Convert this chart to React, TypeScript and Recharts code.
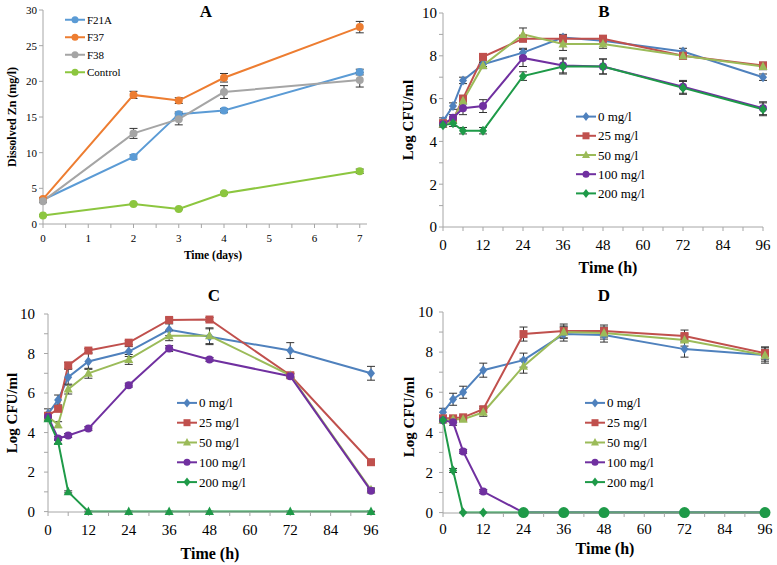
import React from 'react';
import { LineChart, Line, XAxis, YAxis, ErrorBar, Legend } from 'recharts';

const FONT = "'Liberation Serif', 'Times New Roman', Times, serif";
const AXIS = '#a6a6a6';

// ---- panel A: dissolved Zn ----
const daysA = [0, 2, 3, 4, 7];
const f21a = [3.4, 9.4, 15.4, 15.9, 21.3];
const f21aErr = [0.2, 0.3, 0.3, 0.3, 0.4];
const f37 = [3.5, 18.1, 17.3, 20.5, 27.6];
const f37Err = [0.2, 0.5, 0.4, 0.6, 0.8];
const f38 = [3.2, 12.7, 14.7, 18.5, 20.2];
const f38Err = [0.2, 0.7, 0.8, 0.9, 1.0];
const control = [1.2, 2.8, 2.1, 4.3, 7.4];
const controlErr = [0.1, 0.1, 0.1, 0.15, 0.3];
const ticksAX = [0, 0.5, 1, 1.5, 2, 2.5, 3, 3.5, 4, 4.5, 5, 5.5, 6, 6.5, 7];
const ticksAY = [0, 5, 10, 15, 20, 25, 30];

// ---- panels B-D: Log CFU/ml ----
const hours = [0, 3, 6, 12, 24, 36, 48, 72, 96];
const hourTicks = [0, 6, 12, 18, 24, 30, 36, 42, 48, 54, 60, 66, 72, 78, 84, 90, 96];
const logTicks = [0, 1, 2, 3, 4, 5, 6, 7, 8, 9, 10];
const concNames = ['0 mg/l', '25 mg/l', '50 mg/l', '100 mg/l', '200 mg/l'];

const b0 = [4.95, 5.65, 6.85, 7.6, 8.15, 8.85, 8.7, 8.2, 7.0];
const b25 = [4.85, 5.0, 6.0, 7.95, 8.8, 8.8, 8.8, 8.0, 7.55];
const b50 = [4.8, 5.0, 5.9, 7.55, 9.0, 8.55, 8.55, 8.0, 7.5];
const b100 = [4.8, 5.1, 5.55, 5.65, 7.9, 7.55, 7.5, 6.55, 5.55];
const b200 = [4.75, 4.85, 4.5, 4.5, 7.05, 7.5, 7.5, 6.5, 5.5];
const b0Err = [0.15, 0.15, 0.15, 0.1, 0.2, 0.15, 0.15, 0.15, 0.15];
const b25Err = [0.1, 0.1, 0.15, 0.15, 0.15, 0.15, 0.15, 0.1, 0.15];
const b50Err = [0.1, 0.1, 0.15, 0.15, 0.3, 0.3, 0.2, 0.15, 0.15];
const b100Err = [0.1, 0.15, 0.3, 0.3, 0.4, 0.35, 0.35, 0.3, 0.3];
const b200Err = [0.1, 0.15, 0.15, 0.15, 0.2, 0.35, 0.35, 0.3, 0.3];

const c0 = [4.95, 5.65, 6.8, 7.6, 8.1, 9.2, 8.85, 8.15, 7.0];
const c25 = [4.85, 5.2, 7.4, 8.15, 8.55, 9.7, 9.72, 6.9, 2.5];
const c50 = [4.8, 4.4, 6.2, 7.0, 7.7, 8.9, 8.9, 6.9, 1.1];
const c100 = [4.8, 3.7, 3.85, 4.2, 6.4, 8.25, 7.7, 6.85, 1.05];
const c200 = [4.7, 3.55, 1.0, 0, 0, 0, 0, 0, 0];
const c0Err = [0.25, 0.25, 0.4, 0.4, 0.25, 0.3, 0.4, 0.4, 0.35];
const c25Err = [0.1, 0.1, 0.15, 0.1, 0.1, 0.1, 0.1, 0.1, 0.1];
const c50Err = [0.1, 0.15, 0.25, 0.25, 0.25, 0.25, 0.4, 0.1, 0.1];
const c100Err = [0.1, 0.1, 0.1, 0.1, 0.1, 0.15, 0.1, 0.1, 0.1];
const c200Err = [0.1, 0.1, 0.05, 0.02, 0.02, 0.02, 0.02, 0.02, 0.02];

const d0 = [5.0, 5.65, 6.0, 7.1, 7.6, 8.9, 8.85, 8.15, 7.85];
const d25 = [4.7, 4.7, 4.75, 5.15, 8.9, 9.05, 9.05, 8.8, 7.95];
const d50 = [4.6, 4.65, 4.65, 5.0, 7.3, 9.0, 8.95, 8.6, 7.85];
const d100 = [4.6, 4.5, 3.05, 1.05, 0, 0, 0, 0, 0];
const d200 = [4.6, 2.1, 0, 0, 0, 0, 0, 0, 0];
const d0Err = [0.2, 0.3, 0.3, 0.35, 0.35, 0.35, 0.35, 0.4, 0.4];
const d25Err = [0.1, 0.1, 0.1, 0.15, 0.35, 0.35, 0.3, 0.3, 0.3];
const d50Err = [0.1, 0.1, 0.1, 0.2, 0.35, 0.3, 0.3, 0.3, 0.3];
const d100Err = [0.1, 0.15, 0.1, 0.1, 0.02, 0.02, 0.02, 0.02, 0.02];
const d200Err = [0.1, 0.1, 0.02, 0.02, 0.02, 0.02, 0.02, 0.02, 0.02];

type Shape = 'circle' | 'square' | 'diamond' | 'triangle';

interface Series {
  key: string;
  name: string;
  color: string;
  shape: Shape;
  values: number[];
  errors: number[];
  shapeAt?: (i: number) => Shape;
}

const Marker = ({ cx, cy, shape, color, s = 4 }: any) => {
  if (cx == null || cy == null) return null;
  if (shape === 'square') return <rect x={cx - s} y={cy - s} width={2 * s} height={2 * s} fill={color} />;
  if (shape === 'diamond')
    return <polygon points={`${cx},${cy - s - 1} ${cx + s},${cy} ${cx},${cy + s + 1} ${cx - s},${cy}`} fill={color} />;
  if (shape === 'triangle')
    return <polygon points={`${cx},${cy - s - 1} ${cx + s + 0.5},${cy + s - 0.5} ${cx - s - 0.5},${cy + s - 0.5}`} fill={color} />;
  return <circle cx={cx} cy={cy} r={s} fill={color} />;
};

const build = (xs: number[], series: Series[]) =>
  xs.map((t, i) => {
    const row: Record<string, number> = { t };
    series.forEach((s) => {
      row[s.key] = s.values[i];
      row[s.key + 'Err'] = s.errors[i];
    });
    return row;
  });

const concColors = ['#4f81bd', '#c0504d', '#9bbb59', '#7030a0', '#1e9a48'];
const concShapes: Shape[] = ['diamond', 'square', 'triangle', 'circle', 'diamond'];

const concSeries = (vals: number[][], errs: number[][], last?: Partial<Series>): Series[] =>
  vals.map((v, i) => ({
    key: 's' + i,
    name: concNames[i],
    color: concColors[i],
    shape: concShapes[i],
    values: v,
    errors: errs[i],
    ...(i === 4 && last ? last : {}),
  }));

const seriesA: Series[] = [
  { key: 'f21a', name: 'F21A', color: '#5b9bd5', shape: 'circle', values: f21a, errors: f21aErr },
  { key: 'f37', name: 'F37', color: '#ed7d31', shape: 'circle', values: f37, errors: f37Err },
  { key: 'f38', name: 'F38', color: '#a5a5a5', shape: 'circle', values: f38, errors: f38Err },
  { key: 'ctrl', name: 'Control', color: '#8cc63f', shape: 'circle', values: control, errors: controlErr },
];
const seriesB = concSeries([b0, b25, b50, b100, b200], [b0Err, b25Err, b50Err, b100Err, b200Err]);
const seriesC = concSeries([c0, c25, c50, c100, c200], [c0Err, c25Err, c50Err, c100Err, c200Err], {
  shapeAt: () => 'triangle',
});
const seriesD = concSeries([d0, d25, d50, d100, d200], [d0Err, d25Err, d50Err, d100Err, d200Err], {
  shapeAt: (i) => (i >= 4 ? 'circle' : 'diamond'),
});

interface PanelProps {
  left: number;
  top: number;
  width: number;
  height: number;
  margin: { top: number; right: number; bottom: number; left: number };
  yWidth: number;
  xs: number[];
  series: Series[];
  xDomain: [number, number];
  xTicks: number[];
  xLabel: (v: number) => string;
  yDomain: [number, number];
  yTicks: number[];
  yLabel: (v: number) => string;
  tickFont: number;
  xTickMargin: number;
  yTickMargin: number;
  legend: { left: number; top: number; gap: number; line: number; font: number };
  title: { text: string; x: number; y: number };
  xTitle: { text: string; x: number; y: number; size: number };
  yTitle: { text: string; x: number; y: number; size: number };
  dotSize: number;
}

const Panel = (p: PanelProps) => {
  const data = build(p.xs, p.series);
  const renderLegend = (props: any) => {
    const payload = (props.payload || []).slice().sort(
      (a: any, b: any) =>
        p.series.findIndex((s) => s.key === a.dataKey) - p.series.findIndex((s) => s.key === b.dataKey),
    );
    return (
      <svg width={110} height={payload.length * p.legend.gap} style={{ overflow: 'visible', display: 'block' }}>
        {payload.map((entry: any, i: number) => {
          const sr = p.series.find((s) => s.key === entry.dataKey);
          const y = p.legend.gap * i + p.legend.gap / 2;
          return (
            <g key={entry.dataKey}>
              <line x1={0} x2={p.legend.line} y1={y} y2={y} stroke={entry.color} strokeWidth={2} />
              <Marker cx={p.legend.line / 2} cy={y} shape={sr ? sr.shape : 'circle'} color={entry.color} s={p.dotSize - 0.5} />
              <text x={p.legend.line + 2} y={y} dy="0.35em" style={{ fontSize: p.legend.font, fontFamily: FONT }} fill="#000">
                {entry.value}
              </text>
            </g>
          );
        })}
      </svg>
    );
  };

  const tickStyle = { fill: '#000', fontSize: p.tickFont, fontFamily: FONT, style: { fontFamily: FONT } };

  return (
    <div style={{ position: 'absolute', left: p.left, top: p.top, width: p.width, height: p.height, fontFamily: FONT }}>
      <LineChart width={p.width} height={p.height} data={data} margin={p.margin} style={{ fontFamily: FONT }}>
        <XAxis
          dataKey="t"
          type="number"
          domain={p.xDomain}
          ticks={p.xTicks}
          interval={0}
          tickFormatter={p.xLabel}
          stroke={AXIS}
          tickSize={4}
          tickMargin={p.xTickMargin}
          tick={tickStyle}
          height={30}
        />
        <YAxis
          type="number"
          domain={p.yDomain}
          ticks={p.yTicks}
          interval={0}
          tickFormatter={p.yLabel}
          stroke={AXIS}
          tickSize={4}
          tickMargin={p.yTickMargin}
          tick={tickStyle}
          width={p.yWidth}
        />
        <Legend
          layout="vertical"
          align="center"
          verticalAlign="middle"
          content={renderLegend}
          wrapperStyle={{ left: p.legend.left, top: p.legend.top, width: 110 }}
        />
        {p.series.map((s) => (
          <Line
            key={s.key}
            dataKey={s.key}
            name={s.name}
            stroke={s.color}
            strokeWidth={2}
            isAnimationActive={false}
            activeDot={false}
            dot={(dp: any) => (
              <Marker
                key={`${s.key}-${dp.index}`}
                cx={dp.cx}
                cy={dp.cy}
                shape={s.shapeAt ? s.shapeAt(dp.index) : s.shape}
                color={s.color}
                s={s.shapeAt && s.shapeAt(dp.index) === 'circle' && s.shape !== 'circle' ? p.dotSize + 1.5 : p.dotSize}
              />
            )}
          >
            <ErrorBar dataKey={s.key + 'Err'} direction="y" width={4} stroke="#333" strokeWidth={1} isAnimationActive={false} />
          </Line>
        ))}
      </LineChart>
      <svg
        width={p.width}
        height={p.height}
        style={{ position: 'absolute', left: 0, top: 0, pointerEvents: 'none', fontFamily: FONT }}
      >
        <text x={p.title.x} y={p.title.y} dy="0.35em" textAnchor="middle" style={{ fontSize: 17, fontWeight: 'bold', fontFamily: FONT }}>
          {p.title.text}
        </text>
        <text
          x={p.xTitle.x}
          y={p.xTitle.y}
          dy="0.35em"
          textAnchor="middle"
          style={{ fontSize: p.xTitle.size, fontWeight: 'bold', fontFamily: FONT }}
        >
          {p.xTitle.text}
        </text>
        <text
          x={p.yTitle.x}
          y={p.yTitle.y}
          dy="0.35em"
          textAnchor="middle"
          style={{ fontSize: p.yTitle.size, fontWeight: 'bold', fontFamily: FONT }}
          transform={`rotate(-90 ${p.yTitle.x} ${p.yTitle.y})`}
        >
          {p.yTitle.text}
        </text>
      </svg>
    </div>
  );
};

const hourLabel = (v: number) => (v % 12 === 0 ? String(v) : '');
const logLabel = (v: number) => (v % 2 === 0 ? String(v) : '');
const dayLabel = (v: number) => (Number.isInteger(v) ? String(v) : '');

export default function App() {
  return (
    <div style={{ position: 'absolute', left: 0, top: 0, width: 777, height: 565, background: '#fff', fontFamily: FONT }}>
      <Panel
        left={0}
        top={0}
        width={390}
        height={280}
        margin={{ top: 10, right: 23, bottom: 26, left: 0 }}
        yWidth={43}
        xs={daysA}
        series={seriesA}
        xDomain={[0, 7.16]}
        xTicks={ticksAX}
        xLabel={dayLabel}
        yDomain={[0, 30]}
        yTicks={ticksAY}
        yLabel={(v) => String(v)}
        tickFont={11}
        xTickMargin={6}
        yTickMargin={2}
        legend={{ left: 65, top: 11, gap: 17.5, line: 20, font: 11 }}
        title={{ text: 'A', x: 206, y: 11 }}
        xTitle={{ text: 'Time (days)', x: 213, y: 255, size: 11.5 }}
        yTitle={{ text: 'Dissolved Zn (mg/l)', x: 12, y: 117, size: 12 }}
        dotSize={4}
      />
      <Panel
        left={390}
        top={0}
        width={387}
        height={280}
        margin={{ top: 13, right: 14, bottom: 23, left: 0 }}
        yWidth={53}
        xs={hours}
        series={seriesB}
        xDomain={[0, 96]}
        xTicks={hourTicks}
        xLabel={hourLabel}
        yDomain={[0, 10]}
        yTicks={logTicks}
        yLabel={logLabel}
        tickFont={15}
        xTickMargin={8}
        yTickMargin={2}
        legend={{ left: 186, top: 106.5, gap: 19.2, line: 20, font: 13 }}
        title={{ text: 'B', x: 214, y: 11 }}
        xTitle={{ text: 'Time (h)', x: 218, y: 267, size: 16 }}
        yTitle={{ text: 'Log CFU/ml', x: 18, y: 120, size: 15 }}
        dotSize={4}
      />
      <Panel
        left={0}
        top={280}
        width={390}
        height={285}
        margin={{ top: 34, right: 19, bottom: 23, left: 0 }}
        yWidth={48}
        xs={hours}
        series={seriesC}
        xDomain={[0, 96]}
        xTicks={hourTicks}
        xLabel={hourLabel}
        yDomain={[0, 10]}
        yTicks={logTicks}
        yLabel={logLabel}
        tickFont={15}
        xTickMargin={8}
        yTickMargin={9}
        legend={{ left: 177, top: 113, gap: 19.8, line: 20, font: 13 }}
        title={{ text: 'C', x: 214, y: 15 }}
        xTitle={{ text: 'Time (h)', x: 210, y: 273, size: 16 }}
        yTitle={{ text: 'Log CFU/ml', x: 12, y: 133, size: 15 }}
        dotSize={4}
      />
      <Panel
        left={390}
        top={280}
        width={387}
        height={285}
        margin={{ top: 32, right: 12, bottom: 22, left: 0 }}
        yWidth={53}
        xs={hours}
        series={seriesD}
        xDomain={[0, 96]}
        xTicks={hourTicks}
        xLabel={hourLabel}
        yDomain={[0, 10]}
        yTicks={logTicks}
        yLabel={logLabel}
        tickFont={15}
        xTickMargin={6}
        yTickMargin={6}
        legend={{ left: 195, top: 113, gap: 19.8, line: 20, font: 13 }}
        title={{ text: 'D', x: 214, y: 15 }}
        xTitle={{ text: 'Time (h)', x: 215, y: 268, size: 16 }}
        yTitle={{ text: 'Log CFU/ml', x: 19, y: 137, size: 15 }}
        dotSize={4}
      />
    </div>
  );
}
